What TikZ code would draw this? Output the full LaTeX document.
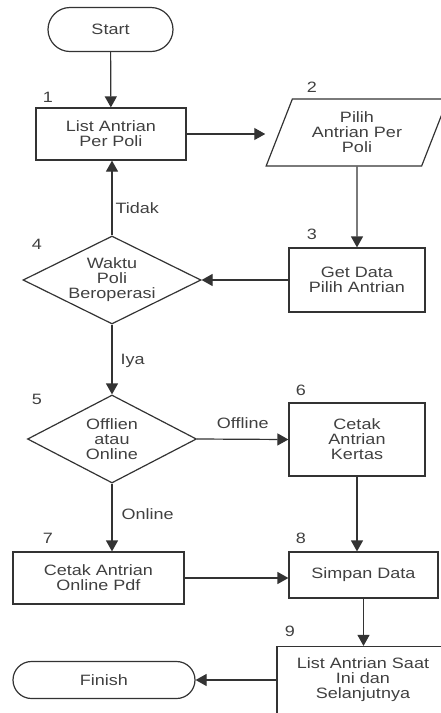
\documentclass[tikz,border=0pt]{standalone}
\usepackage{fontspec}
\setmainfont{Liberation Sans}[FakeStretch=1.2]
\definecolor{linegray}{RGB}{51, 51, 51}
\definecolor{textgray}{RGB}{64, 64, 64}
\usetikzlibrary{shapes.geometric, shapes.misc, arrows.meta, positioning}

\begin{document}
\begin{tikzpicture}[
  x=1pt, y=-1pt,
  font=\fontsize{15}{15}\selectfont, text=textgray,
  term/.style={draw=linegray, line width=1.2pt, rounded rectangle, align=center, inner sep=0pt},
  proc/.style={draw=linegray, line width=1.2pt, rectangle, align=center, inner sep=0pt},
  dec/.style={draw=linegray, line width=1.2pt, diamond, aspect=2, align=center, inner sep=0pt},
  io/.style={draw=linegray, line width=1.2pt, trapezium, trapezium left angle=66, trapezium right angle=114,
    trapezium stretches=true, align=center, inner sep=0pt},
  num/.style={inner sep=0pt},
  lbl/.style={inner sep=0pt},
  arr/.style={-{Triangle[length=11pt, width=12pt]}, line width=1.2pt, draw=linegray},
]
  \useasboundingbox (0, 0) rectangle (440, 713);

  \node[term, minimum width=125pt, minimum height=44pt] (start) at (110.5, 29.5) {Start};
  \node[proc, minimum width=150pt, minimum height=52pt] (list) at (111, 134) {List Antrian\\Per Poli};
  \node[io, minimum width=182pt, minimum height=67pt] (pilih) at (357, 132.5) {Pilih\\Antrian Per\\Poli};
  \node[proc, minimum width=136pt, minimum height=64pt] (getdata) at (357, 280) {Get Data\\Pilih Antrian};
  \node[dec, minimum width=178pt, minimum height=88pt] (waktu) at (112, 280) {Waktu\\Poli\\Beroperasi};
  \node[dec, minimum width=169pt, minimum height=88pt] (mode) at (112, 439) {Offlien\\atau\\Online};
  \node[proc, minimum width=136pt, minimum height=73pt] (kertas) at (357, 439.5) {Cetak\\Antrian\\Kertas};
  \node[proc, minimum width=171pt, minimum height=52pt] (pdf) at (98.5, 578) {Cetak Antrian\\Online Pdf};
  \node[proc, minimum width=149pt, minimum height=46pt] (simpan) at (363.5, 575) {Simpan Data};
  \node[proc, minimum width=172pt, minimum height=67pt] (listnext) at (363, 680) {List Antrian Saat\\Ini dan\\Selanjutnya};
  \node[term, minimum width=182pt, minimum height=37pt] (finish) at (104, 680) {Finish};

  % step numbers
  \node[num] (n1) at (48, 97) {1};
  \node[num] (n2) at (312, 87) {2};
  \node[num] (n3) at (312, 234) {3};
  \node[num] (n4) at (37, 244) {4};
  \node[num] (n5) at (37, 399) {5};
  \node[num] (n6) at (301, 390) {6};
  \node[num] (n7) at (48, 538) {7};
  \node[num] (n8) at (301, 538) {8};
  \node[num] (n9) at (290, 631) {9};

  \draw[arr] (start) -- (list);
  \draw[arr] (list.east) -- (list.east -| pilih.bottom left corner);
  \draw[arr] (pilih) -- (getdata);
  \draw[arr] (getdata.west) -- (waktu.east);
  \draw[arr] (waktu.north) -- node[lbl, right=3pt, pos=0.37] {Tidak} (waktu.north |- list.south);
  \draw[arr] (waktu.south) -- node[lbl, right=8pt, pos=0.52] {Iya} (mode.north);
  \draw[arr] (mode.east) -- node[lbl, above=10pt, midway] {Offline} (kertas.west);
  \draw[arr] (mode.south) -- node[lbl, right=9pt, pos=0.45] {Online} (mode.south |- pdf.north);
  \draw[arr] (kertas.south) -- (kertas.south |- simpan.north);
  \draw[arr] (pdf.east) -- (pdf.east -| simpan.west);
  \draw[arr] (simpan.south) -- (simpan.south |- listnext.north);
  \draw[arr] (listnext.west) -- (finish.east);
\end{tikzpicture}
\end{document}
